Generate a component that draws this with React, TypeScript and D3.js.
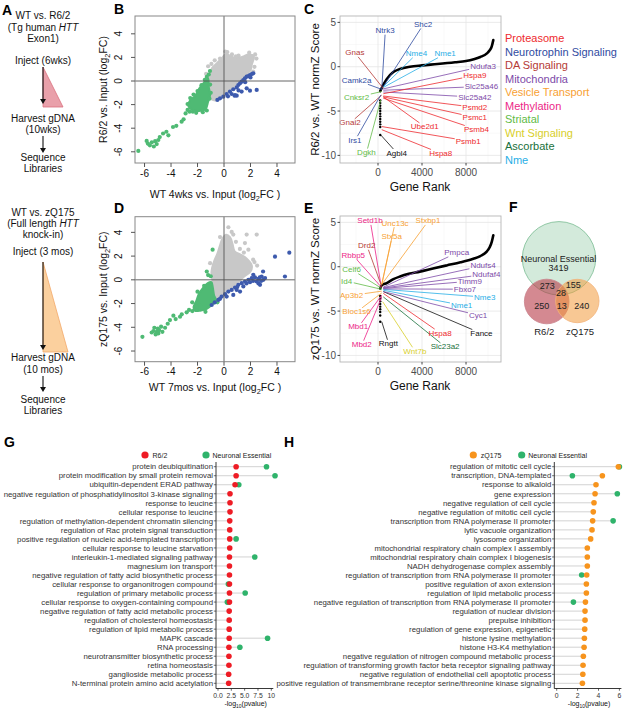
import React, { useEffect, useRef } from 'react'
import * as d3 from 'd3'

const FONT = "'Liberation Sans', Arial, Helvetica, sans-serif"

// ---------- B: R6/2 screen, log2FC vs input ----------
const bGrayCloud = [[-0.95,-1.55],[-1.25,-1.0],[-1.3,-0.3],[-1.15,0.4],[-0.9,1.1],[-0.5,1.55],[-0.15,1.95],[0.15,2.3],[0.5,2.1],[0.9,1.95],[1.4,2.05],[1.85,2.25],[2.25,2.1],[2.1,1.4],[2.0,0.9],[1.6,0.45],[1.2,0.1],[0.85,-0.35],[0.5,-0.75],[0.1,-1.15],[-0.25,-1.45],[-0.6,-1.65]]
const bGray = [[-1.2,1.25],[-0.95,1.45],[-0.7,1.75],[0.25,2.45],[0.6,2.25],[1.9,2.4],[2.35,2.25],[2.45,1.9],[-1.35,0.6],[0.1,2.5],[1.1,2.15],[2.3,1.2],[-1.4,-0.1],[-1.25,-0.9],[1.5,0.6],[2.2,0.8],[-0.3,1.9],[0.9,2.1]]
const bGreenCloud = [[-2.7,-2.1],[-2.5,-1.55],[-2.2,-1.3],[-1.85,-0.6],[-1.45,-0.05],[-1.2,0.2],[-1.15,-0.5],[-1.05,-1.2],[-1.2,-1.75],[-1.4,-2.4],[-1.9,-2.55],[-2.4,-2.45]]
const bGreen = [[-6.47,-5.93],[-5.84,-5.08],[-5.75,-5.3],[-5.6,-5.45],[-5.45,-5.2],[-5.3,-5.55],[-5.2,-5.1],[-5.08,-5.35],[-4.96,-5.0],[-4.85,-4.75],[-4.6,-4.45],[-4.35,-4.3],[-4.2,-4.6],[-3.85,-3.9],[-3.6,-3.8],[-3.2,-3.45],[-3.05,-3.25],[-2.9,-2.75],[-2.75,-2.45],[-2.6,-2.6],[-2.75,-1.95],[-2.55,-1.45],[-2.3,-1.15],[-2.0,-0.85],[-1.7,-0.35],[-1.45,0.1],[-1.3,0.35],[-1.06,0.85],[-1.15,0.55],[-1.0,-1.0],[-1.3,-2.5],[-1.6,-2.65],[-2.1,-2.7],[-2.35,-2.6],[-1.05,-0.3],[-1.1,-1.5]]
const bBlue = [[-0.5,-1.6],[-0.3,-1.47],[-0.05,-1.33],[0.2,-1.1],[0.3,-1.3],[0.45,-0.9],[0.58,-1.1],[0.7,-0.7],[0.83,-1.19],[0.96,-0.54],[1.08,-0.34],[1.1,-0.8],[1.21,-0.2],[1.33,-0.06],[1.33,-0.9],[1.46,0.08],[1.58,0.23],[1.6,-0.1],[1.71,0.37],[1.71,-0.62],[1.84,0.42],[1.96,0.51],[1.96,-0.82],[2.0,0.3],[2.09,0.59],[2.21,0.65],[2.47,-0.76],[0.96,-1.24],[0.8,-1.25]]

// ---------- D: zQ175 screen ----------
const dGrayCloud = [[-0.8,-0.45],[-0.95,0.5],[-0.9,1.0],[-0.7,1.7],[-0.5,2.2],[-0.3,2.9],[-0.15,3.4],[0.15,3.8],[0.45,3.6],[0.65,3.0],[0.8,2.4],[1.3,2.1],[1.7,1.8],[2.1,1.2],[2.0,0.7],[1.5,0.25],[1.1,-0.15],[0.6,-0.6],[0.2,-1.0],[-0.2,-1.4],[-0.55,-1.65],[-0.75,-1.2]]
const dGray = [[0.33,4.43],[0.58,4.04],[0.08,3.53],[0.7,3.81],[1.71,3.81],[2.47,3.81],[1.58,3.1],[1.84,2.54],[1.2,2.6],[1.5,2.3],[0.9,3.2],[2.3,1.5],[2.5,1.2],[-1.05,1.4],[2.2,1.7],[-0.3,3.6]]
const dGreenCloud = [[-2.3,-2.3],[-2.1,-1.8],[-1.9,-1.2],[-1.6,-0.7],[-1.25,-0.3],[-0.95,-0.2],[-0.85,-0.6],[-0.75,-1.3],[-0.6,-1.75],[-0.9,-2.1],[-1.3,-2.45],[-1.8,-2.6],[-2.2,-2.6]]
const dGreen = [[-6.16,-4.8],[-5.46,-4.44],[-5.33,-4.32],[-5.26,-4.04],[-5.16,-4.6],[-5.08,-4.38],[-5.0,-4.1],[-4.96,-4.52],[-4.9,-4.24],[-4.75,-3.95],[-4.65,-4.38],[-4.45,-4.04],[-4.25,-3.7],[-4.08,-3.39],[-3.82,-3.02],[-3.65,-3.31],[-3.32,-3.11],[-3.19,-2.91],[-2.82,-2.74],[-2.64,-2.54],[-2.39,-2.63],[-2.06,-2.26],[-1.81,-2.12],[-0.86,2.54],[-1.2,0.4],[-1.3,0.7],[-1.0,0.3],[-1.5,-0.5],[-2.0,-1.0],[-2.4,-1.9],[-1.4,-2.7],[-0.7,-1.9],[-0.5,-1.9]]
const dBlue = [[-0.43,-1.69],[-0.18,-1.41],[0.08,-1.21],[0.33,-0.99],[0.58,-0.85],[0.83,-0.65],[0.96,-0.85],[1.08,-0.42],[1.33,-0.28],[1.46,-0.56],[1.58,-0.14],[1.84,0],[1.96,-0.2],[2.09,0.14],[2.21,0.42],[2.34,0.2],[2.47,-0.14],[2.59,0.08],[2.72,-0.42],[2.84,0.28],[2.97,0],[1.21,-0.99],[0.7,-1.27],[0.2,-1.41],[-0.93,-2.12],[3.85,1.95],[4.93,2.29],[4.6,0.28],[2.95,0.7],[2.7,0.2],[2.8,-0.1],[3.1,0.15],[2.6,-0.3],[-0.7,-1.9],[-0.3,-1.6],[1.7,-0.3],[2.2,-0.1],[1.0,-0.6]]

// ---------- C / E: normZ rank curves ----------
const groups = ['Proteasome','Neurotrophin Signaling','DA Signaling','Mitochondria','Vesicle Transport','Methylation','Striatal','Wnt Signaling','Ascorbate','Nme']
const groupColors = ['#ee2a2e','#2f4b9f','#b53a36','#7d4aa8','#f8a133','#ec1f87','#62bb47','#d8cf2a','#18703b','#27aee6']

const cCurveRank = [200,336,500,790,1390,2000,2900,4000,5400,7000,8000,8700,9300,9900,10150,10340,10480]
const cCurveZ = [-2.75,-2.4,-2.0,-1.4,-0.6,-0.25,0.0,0.15,0.3,0.5,0.65,0.85,1.1,1.5,1.85,2.3,3.0]
const cTail = [-3.8,-4.1,-4.4,-4.7,-5.0,-5.3,-5.6,-5.9,-6.2,-6.5,-6.8,-7.7]
const cGenes = [
  {gene:'Ntrk3', group:'Neurotrophin Signaling', rank:340, z:-2.6, lr:640, lz:4.1},
  {gene:'Shc2', group:'Neurotrophin Signaling', rank:480, z:-2.25, lr:4100, lz:4.8},
  {gene:'Gnas', group:'DA Signaling', rank:480, z:-2.45, lr:-2100, lz:1.6},
  {gene:'Nme4', group:'Nme', rank:480, z:-2.25, lr:3500, lz:1.5},
  {gene:'Nme1', group:'Nme', rank:540, z:-2.3, lr:6100, lz:1.5},
  {gene:'Camk2a', group:'Neurotrophin Signaling', rank:340, z:-2.55, lr:-1950, lz:-1.5},
  {gene:'Cnksr2', group:'Striatal', rank:340, z:-2.8, lr:-1950, lz:-3.4},
  {gene:'Gnai2', group:'DA Signaling', rank:340, z:-3.2, lr:-2550, lz:-6.3},
  {gene:'Irs1', group:'Neurotrophin Signaling', rank:250, z:-3.2, lr:-2100, lz:-8.25},
  {gene:'Dgkh', group:'Striatal', rank:250, z:-3.75, lr:-1050, lz:-9.65},
  {gene:'Agbl4', group:'Other', rank:250, z:-7.7, lr:1700, lz:-9.7},
  {gene:'Ube2d1', group:'Proteasome', rank:480, z:-3.4, lr:4250, lz:-6.75},
  {gene:'Hspa8', group:'Proteasome', rank:340, z:-7.1, lr:5700, lz:-9.75},
  {gene:'Psmb1', group:'Proteasome', rank:340, z:-6.75, lr:8200, lz:-8.35},
  {gene:'Psmb4', group:'Proteasome', rank:480, z:-3.55, lr:8950, lz:-7.05},
  {gene:'Psmc1', group:'Proteasome', rank:480, z:-3.4, lr:8800, lz:-5.7},
  {gene:'Psmd2', group:'Proteasome', rank:480, z:-3.3, lr:8800, lz:-4.55},
  {gene:'Slc25a42', group:'Mitochondria', rank:480, z:-2.85, lr:8800, lz:-3.4},
  {gene:'Slc25a46', group:'Mitochondria', rank:480, z:-2.65, lr:9400, lz:-2.2},
  {gene:'Hspa9', group:'Proteasome', rank:480, z:-3.05, lr:8800, lz:-0.95},
  {gene:'Ndufa3', group:'Mitochondria', rank:480, z:-2.5, lr:9550, lz:0.1},
]

const eCurveRank = [200,336,790,1400,2000,2800,3800,5000,6240,7500,8660,9300,9880,10150,10340,10480]
const eCurveZ = [-2.45,-2.1,-1.85,-1.4,-1.1,-0.8,-0.55,-0.2,0.15,0.5,0.9,1.2,1.7,2.2,2.8,3.55]
const eTail = [-3.3,-3.6,-3.9,-4.2,-4.5,-4.8,-5.1,-5.5,-6.2]
const eGenes = [
  {gene:'Setd1b', group:'Methylation', rank:250, z:-1.9, lr:-730, lz:5.2},
  {gene:'Unc13c', group:'Vesicle Transport', rank:340, z:-1.95, lr:1550, lz:4.95},
  {gene:'Stxbp1', group:'Vesicle Transport', rank:340, z:-2.0, lr:4550, lz:5.2},
  {gene:'Stx5a', group:'Vesicle Transport', rank:340, z:-2.05, lr:1250, lz:3.4},
  {gene:'Drd2', group:'DA Signaling', rank:340, z:-2.25, lr:-1030, lz:2.4},
  {gene:'Rbbp5', group:'Methylation', rank:340, z:-2.35, lr:-2250, lz:1.25},
  {gene:'Celf6', group:'Striatal', rank:340, z:-2.45, lr:-2400, lz:-0.3},
  {gene:'Id4', group:'Striatal', rank:340, z:-2.55, lr:-2850, lz:-1.6},
  {gene:'Ap3b2', group:'Vesicle Transport', rank:340, z:-2.75, lr:-2400, lz:-3.2},
  {gene:'Bloc1s6', group:'Vesicle Transport', rank:340, z:-2.95, lr:-1950, lz:-5.05},
  {gene:'Mbd1', group:'Methylation', rank:340, z:-3.2, lr:-1800, lz:-6.75},
  {gene:'Mbd2', group:'Methylation', rank:340, z:-3.4, lr:-1480, lz:-8.75},
  {gene:'Rngtt', group:'Other', rank:340, z:-6.2, lr:940, lz:-8.65},
  {gene:'Wnt7b', group:'Wnt Signaling', rank:430, z:-3.95, lr:3350, lz:-9.5},
  {gene:'Slc23a2', group:'Ascorbate', rank:480, z:-3.4, lr:6100, lz:-9.0},
  {gene:'Hspa8', group:'Proteasome', rank:480, z:-3.0, lr:5650, lz:-7.45},
  {gene:'Fance', group:'Other', rank:480, z:-2.8, lr:9400, lz:-7.5},
  {gene:'Cyc1', group:'Mitochondria', rank:480, z:-2.8, lr:9100, lz:-5.45},
  {gene:'Nme1', group:'Nme', rank:480, z:-2.65, lr:7600, lz:-4.3},
  {gene:'Nme3', group:'Nme', rank:480, z:-2.55, lr:9700, lz:-3.4},
  {gene:'Fbxo7', group:'Mitochondria', rank:480, z:-2.5, lr:7900, lz:-2.5},
  {gene:'Timm9', group:'Mitochondria', rank:480, z:-2.45, lr:8350, lz:-1.6},
  {gene:'Ndufaf4', group:'Mitochondria', rank:480, z:-2.4, lr:9850, lz:-0.8},
  {gene:'Ndufs4', group:'Mitochondria', rank:480, z:-2.35, lr:9550, lz:0.15},
  {gene:'Pmpca', group:'Mitochondria', rank:480, z:-2.3, lr:7150, lz:1.6},
]

// ---------- F: venn counts ----------
const vennCounts = {ne:3419, neR:273, neQ:155, all:28, r:250, rq:13, q:240}

// ---------- G: GO terms R6/2 ----------
const gTerms = [
  'protein deubiquitination','protein modification by small protein removal','ubiquitin-dependent ERAD pathway',
  'negative regulation of phosphatidylinositol 3-kinase signaling','response to leucine','cellular response to leucine',
  'regulation of methylation-dependent chromatin silencing','regulation of Rac protein signal transduction',
  'positive regulation of nucleic acid-templated transcription','cellular response to leucine starvation',
  'interleukin-1-mediated signaling pathway','magnesium ion transport','negative regulation of fatty acid biosynthetic process',
  'cellular response to organonitrogen compound','regulation of primary metabolic process','cellular response to oxygen-containing compound',
  'negative regulation of fatty acid metabolic process','regulation of cholesterol homeostasis','regulation of lipid metabolic process',
  'MAPK cascade','RNA processing','neurotransmitter biosynthetic process','retina homeostasis','ganglioside metabolic process',
  'N-terminal protein amino acid acetylation',
]
const gR62 = [3.4,3.4,3.2,2.25,2.25,2.25,2.2,2.2,2.2,2.2,2.15,2.15,2.15,2.15,2.15,2.15,2.1,2.1,2.1,2.1,2.05,2.05,2.05,2.0,2.0]
const gNE = [9.1,10.7,3.9,null,null,null,null,null,3.4,null,6.9,null,null,1.95,5.1,1.75,null,null,null,9.3,4.1,null,null,null,null]

// ---------- H: GO terms zQ175 ----------
const hTerms = [
  'regulation of mitotic cell cycle','transcription, DNA-templated','response to alkaloid','gene expression',
  'negative regulation of cell cycle','negative regulation of mitotic cell cycle','transcription from RNA polymerase II promoter',
  'lytic vacuole organization','lysosome organization','mitochondrial respiratory chain complex I assembly',
  'mitochondrial respiratory chain complex I biogenesis','NADH dehydrogenase complex assembly',
  'regulation of transcription from RNA polymerase II promoter','positive regulation of axon extension',
  'regulation of lipid metabolic process','negative regulation of transcription from RNA polymerase II promoter',
  'regulation of nuclear division','prepulse inhibition','regulation of gene expression, epigenetic','histone lysine methylation',
  'histone H3-K4 methylation','negative regulation of nitrogen compound metabolic process',
  'regulation of transforming growth factor beta receptor signaling pathway','negative regulation of endothelial cell apoptotic process',
  'positive regulation of transmembrane receptor serine/threonine kinase signaling',
]
const hQ175 = [5.9,4.37,3.76,3.67,3.57,3.5,3.44,3.38,3.25,2.93,2.93,2.93,2.87,2.84,2.84,2.75,2.71,2.71,2.68,2.65,2.62,2.55,2.52,2.5,2.46]
const hNE = [6.0,1.5,null,5.8,null,null,5.4,null,null,null,null,null,2.39,null,null,1.6,null,null,null,null,null,null,null,null,null]

const GRAY = '#c8c8c8', GREEN = '#4fba74', BLUE = '#3d5aad'
const RED = '#ee1c25', NEGREEN = '#2fb36b', ORANGE = '#f7941d'

const colorOf = (g:string) => { const i = groups.indexOf(g); return i < 0 ? '#111' : groupColors[i] }

function txt(g:any, x:number, y:number, s:string, o:any = {}) {
  const t = g.append('text').attr('x', x).attr('y', y).text(s)
    .attr('font-size', o.size ?? 10).attr('text-anchor', o.anchor ?? 'start').attr('fill', o.fill ?? '#111')
  if (o.weight) t.attr('font-weight', o.weight)
  return t
}

function subTitle(g:any, x:number, y:number, pre:string, sub:string, post:string, size:number, rotate=false) {
  const t = g.append('text').attr('x', x).attr('y', y).attr('text-anchor','middle').attr('font-size', size).attr('fill','#111')
  if (rotate) t.attr('transform', `rotate(-90,${x},${y})`)
  t.append('tspan').text(pre)
  t.append('tspan').attr('font-size', size*0.7).attr('dy', size*0.3).text(sub)
  t.append('tspan').attr('dy', -size*0.3).text(post)
}

function drawScatter(svg:any, p:any) {
  const L = 135, R = 295
  const x = d3.scaleLinear().domain([-6.72, 5.36]).range([L, R])
  const y = d3.scaleLinear().domain(p.yDom).range([p.bottom, p.top])
  const g = svg.append('g')
  const cloud = d3.line().x((d:any)=>x(d[0])).y((d:any)=>y(d[1])).curve(d3.curveCatmullRomClosed)
  const dots = (arr:any[], col:string) => g.append('g').selectAll('circle').data(arr).join('circle')
    .attr('cx', (d:any)=>x(d[0])).attr('cy', (d:any)=>y(d[1])).attr('r', 2.1).attr('fill', col)
  g.append('path').attr('d', cloud(p.grayCloud)).attr('fill', GRAY).attr('stroke', GRAY).attr('stroke-width', 2)
  dots(p.gray, GRAY)
  g.append('path').attr('d', cloud(p.greenCloud)).attr('fill', GREEN).attr('stroke', GREEN).attr('stroke-width', 2)
  dots(p.green, GREEN)
  dots(p.blue, BLUE)
  g.append('line').attr('x1', x(0)).attr('x2', x(0)).attr('y1', p.top).attr('y2', p.bottom).attr('stroke','#555').attr('stroke-width',0.9)
  g.append('line').attr('x1', L).attr('x2', R).attr('y1', y(0)).attr('y2', y(0)).attr('stroke','#555').attr('stroke-width',0.9)
  g.append('rect').attr('x', L).attr('y', p.top).attr('width', R-L).attr('height', p.bottom-p.top)
    .attr('fill','none').attr('stroke','#888').attr('stroke-width',1)
  const ticks = [-6,-4,-2,0,2,4]
  ticks.forEach(v => {
    g.append('line').attr('x1', x(v)).attr('x2', x(v)).attr('y1', p.bottom).attr('y2', p.bottom+4).attr('stroke','#555')
    txt(g, x(v), p.bottom+13.5, String(v), {anchor:'middle', size:10})
    g.append('line').attr('x1', L-4).attr('x2', L).attr('y1', y(v)).attr('y2', y(v)).attr('stroke','#555')
    txt(g, 122, y(v), String(v), {anchor:'middle', size:10}).attr('transform', `rotate(-90,122,${y(v)})`)
  })
  subTitle(g, 215, p.bottom + p.titleGap, p.xPre, '2', 'FC )', 10.5)
  subTitle(g, 107, (p.top+p.bottom)/2, p.yPre, '2', 'FC)', 10.5, true)
}

function drawRank(svg:any, p:any) {
  const L = 340, R = 501
  const x = d3.scaleLinear().domain([-3455, 11180]).range([L, R])
  const y = d3.scaleLinear().domain(p.yDom).range([p.bottom, p.top])
  const g = svg.append('g')
  g.append('rect').attr('x', L).attr('y', p.top).attr('width', R-L).attr('height', p.bottom-p.top).attr('fill','#fff')
  ;[-2000,2000,6000,10000].forEach(v => g.append('line').attr('x1',x(v)).attr('x2',x(v)).attr('y1',p.top).attr('y2',p.bottom).attr('stroke','#f3f3f3').attr('stroke-width',0.5))
  ;[-7.5,-2.5,2.5].forEach(v => g.append('line').attr('x1',L).attr('x2',R).attr('y1',y(v)).attr('y2',y(v)).attr('stroke','#f3f3f3').attr('stroke-width',0.5))
  ;[0,4000,8000].forEach(v => g.append('line').attr('x1',x(v)).attr('x2',x(v)).attr('y1',p.top).attr('y2',p.bottom).attr('stroke','#e6e6e6').attr('stroke-width',0.8))
  ;[-10,-5,0,5].forEach(v => g.append('line').attr('x1',L).attr('x2',R).attr('y1',y(v)).attr('y2',y(v)).attr('stroke','#e6e6e6').attr('stroke-width',0.8))

  const pts = p.curveRank.map((r:number, i:number) => [r, p.curveZ[i]])
  const line = d3.line().x((d:any)=>x(d[0])).y((d:any)=>y(d[1])).curve(d3.curveMonotoneX)
  g.append('path').attr('d', line(pts)).attr('fill','none').attr('stroke','#000').attr('stroke-width',2.6).attr('stroke-linecap','round')
  g.append('g').selectAll('circle').data(p.tail).join('circle')
    .attr('cx', x(200)).attr('cy', (d:number)=>y(d)).attr('r', 1.2).attr('fill','#000')

  const segG = g.append('g'), labG = g.append('g')
  p.genes.forEach((d:any) => {
    const col = colorOf(d.group)
    const t = labG.append('text').attr('x', x(d.lr)).attr('y', y(d.lz)).attr('dy','0.35em')
      .attr('text-anchor','middle').attr('font-size', 8).attr('fill', col).text(d.gene)
    const bb = t.node().getBBox()
    const cx = bb.x + bb.width/2, cy = bb.y + bb.height/2
    const px = x(d.rank), py = y(d.z)
    const dx = px - cx, dy = py - cy
    const hw = bb.width/2 + 1, hh = bb.height/2 - 0.5
    const s = Math.min(Math.abs(dx) > 0.01 ? hw/Math.abs(dx) : 1e9, Math.abs(dy) > 0.01 ? hh/Math.abs(dy) : 1e9)
    segG.append('line').attr('x1', px).attr('y1', py).attr('x2', cx + dx*s).attr('y2', cy + dy*s)
      .attr('stroke', col).attr('stroke-width', 0.8)
  })

  g.append('rect').attr('x', L).attr('y', p.top).attr('width', R-L).attr('height', p.bottom-p.top)
    .attr('fill','none').attr('stroke','#b5b5b5').attr('stroke-width',0.9)
  ;[-10,-5,0,5].forEach(v => {
    g.append('line').attr('x1', L-2.5).attr('x2', L).attr('y1', y(v)).attr('y2', y(v)).attr('stroke','#444')
    txt(g, L-4, y(v), String(v), {anchor:'end', size:10, fill:'#4d4d4d'}).attr('dy','0.35em')
  })
  ;[0,4000,8000].forEach(v => {
    g.append('line').attr('x1', x(v)).attr('x2', x(v)).attr('y1', p.bottom).attr('y2', p.bottom+2.5).attr('stroke','#444')
    txt(g, x(v), p.bottom+13, String(v), {anchor:'middle', size:10, fill:'#4d4d4d'})
  })
  txt(g, 420, p.bottom+27.5, 'Gene Rank', {anchor:'middle', size:12})
  const cy = (p.top+p.bottom)/2
  txt(g, 319, cy, p.yTitle, {anchor:'middle', size:11.5}).attr('transform', `rotate(-90,319,${cy})`)
}

function drawLolli(svg:any, p:any) {
  const top = 466.7, bot = 683.3
  const y = d3.scalePoint().domain(p.terms).range([top, bot])
  const x = d3.scaleLinear().domain([0, p.xMax]).range([p.x0, p.x0 + p.xMax*p.ppu])
  const g = svg.append('g')
  p.terms.forEach((t:string, i:number) => {
    const hi = Math.max(p.main[i], p.ne[i] ?? 0)
    g.append('line').attr('x1', p.axisX).attr('x2', x(hi)).attr('y1', y(t)).attr('y2', y(t)).attr('stroke','#d2d2d2').attr('stroke-width',1)
    g.append('line').attr('x1', p.axisX-2.2).attr('x2', p.axisX).attr('y1', y(t)).attr('y2', y(t)).attr('stroke','#333').attr('stroke-width',0.7)
    txt(g, p.axisX-3, y(t), t, {anchor:'end', size:7.8, fill:'#333'}).attr('dy','0.35em')
  })
  g.append('g').selectAll('circle').data(p.terms.map((t:string,i:number)=>[t,p.ne[i]]).filter((d:any)=>d[1]!=null)).join('circle')
    .attr('cx', (d:any)=>x(d[1])).attr('cy', (d:any)=>y(d[0])).attr('r', 2.8).attr('fill', NEGREEN)
  g.append('g').selectAll('circle').data(p.terms.map((t:string,i:number)=>[t,p.main[i]])).join('circle')
    .attr('cx', (d:any)=>x(d[1])).attr('cy', (d:any)=>y(d[0])).attr('r', 2.8).attr('fill', p.color)
  const xr = x(p.xMax)
  g.append('line').attr('x1', p.axisX).attr('x2', p.axisX).attr('y1', 462).attr('y2', 688.5).attr('stroke','#222').attr('stroke-width',0.9)
  g.append('line').attr('x1', p.axisX).attr('x2', xr + 2).attr('y1', 688.5).attr('y2', 688.5).attr('stroke','#222').attr('stroke-width',0.9)
  p.xTicks.forEach((v:number, i:number) => {
    g.append('line').attr('x1', x(v)).attr('x2', x(v)).attr('y1', 688.5).attr('y2', 690.7).attr('stroke','#222').attr('stroke-width',0.7)
    txt(g, x(v), 697.5, p.xLabels[i], {anchor:'middle', size:6.8, fill:'#333'})
  })
  subTitle(g, (p.x0 + xr)/2 + 1, 705.5, '-log', '10', '(pvalue)', 7)
  // legend
  g.append('circle').attr('cx', p.leg[0]).attr('cy', 455).attr('r', 3.6).attr('fill', p.color)
  txt(g, p.leg[0]+7.5, 457.5, p.mainName, {size:7, fill:'#222'})
  g.append('circle').attr('cx', p.leg[1]).attr('cy', 455).attr('r', 3.6).attr('fill', NEGREEN)
  txt(g, p.leg[1]+6.5, 457.5, 'Neuronal Essential', {size:7, fill:'#222'})
}

function drawA(svg:any) {
  const g = svg.append('g'), X = 43, fs = 10
  const arrow = (y1:number, y2:number) => {
    g.append('line').attr('x1', X).attr('x2', X).attr('y1', y1).attr('y2', y2-4).attr('stroke','#111').attr('stroke-width',1.1)
    g.append('path').attr('d', `M${X-3},${y2-5}L${X+3},${y2-5}L${X},${y2}Z`).attr('fill','#111')
  }
  const ital = (y:number, pre:string) => {
    const t = g.append('text').attr('x', X).attr('y', y).attr('text-anchor','middle').attr('font-size', fs).attr('fill','#111')
    t.append('tspan').text(pre)
    t.append('tspan').attr('font-style','italic').text('HTT')
  }
  txt(g, X, 19, 'WT vs. R6/2', {anchor:'middle', size:fs})
  ital(30.5, '(Tg human ')
  txt(g, X, 41.5, 'Exon1)', {anchor:'middle', size:fs})
  txt(g, X, 64, 'Inject (6wks)', {anchor:'middle', size:fs})
  g.append('path').attr('d', `M${X},67L${X},107L63,107Z`).attr('fill','#e9a0aa').attr('stroke','#d9707e').attr('stroke-width',0.8)
  arrow(67, 104)
  txt(g, X, 122, 'Harvest gDNA', {anchor:'middle', size:fs})
  txt(g, X, 132.5, '(10wks)', {anchor:'middle', size:fs})
  arrow(136, 153)
  txt(g, X, 161, 'Sequence', {anchor:'middle', size:fs})
  txt(g, X, 171.5, 'Libraries', {anchor:'middle', size:fs})

  txt(g, X, 216, 'WT vs. zQ175', {anchor:'middle', size:fs})
  ital(226.5, '(Full length ')
  txt(g, X, 237.5, 'knock-in)', {anchor:'middle', size:fs})
  txt(g, X, 255, 'Inject (3 mos)', {anchor:'middle', size:fs})
  g.append('path').attr('d', `M${X},262L${X},352L68,352Z`).attr('fill','#fbd09e').attr('stroke','#f2a868').attr('stroke-width',0.8)
  arrow(262, 350)
  txt(g, X, 361, 'Harvest gDNA', {anchor:'middle', size:fs})
  txt(g, X, 372.5, '(10 mos)', {anchor:'middle', size:fs})
  arrow(376, 392)
  txt(g, X, 403, 'Sequence', {anchor:'middle', size:fs})
  txt(g, X, 413.5, 'Libraries', {anchor:'middle', size:fs})
}

function drawF(svg:any) {
  const g = svg.append('g')
  g.append('circle').attr('cx', 559).attr('cy', 258.3).attr('r', 36.7).attr('fill','#d3eadb').attr('stroke','#86c29c').attr('stroke-width',0.9)
  g.append('circle').attr('cx', 546.7).attr('cy', 301.5).attr('r', 22.3).attr('fill','#b83a48').attr('fill-opacity',0.6).attr('stroke','#c9808a').attr('stroke-width',0.8)
  g.append('circle').attr('cx', 577.3).attr('cy', 301).attr('r', 21.7).attr('fill','#f39a3c').attr('fill-opacity',0.55).attr('stroke','#f2b27a').attr('stroke-width',0.8)
  const c = vennCounts, fs = 9
  txt(g, 558.5, 261.5, 'Neuronal Essential', {anchor:'middle', size:fs, fill:'#222'})
  txt(g, 558.5, 271, String(c.ne), {anchor:'middle', size:fs, fill:'#222'})
  txt(g, 547.3, 288.5, String(c.neR), {anchor:'middle', size:fs, fill:'#222'})
  txt(g, 573.3, 288, String(c.neQ), {anchor:'middle', size:fs, fill:'#222'})
  txt(g, 561, 295.5, String(c.all), {anchor:'middle', size:fs, fill:'#222'})
  txt(g, 541.7, 308.5, String(c.r), {anchor:'middle', size:fs, fill:'#222'})
  txt(g, 561.7, 308.5, String(c.rq), {anchor:'middle', size:fs, fill:'#222'})
  txt(g, 581.7, 308.5, String(c.q), {anchor:'middle', size:fs, fill:'#222'})
  txt(g, 544.3, 334.5, 'R6/2', {anchor:'middle', size:9.5, fill:'#222'})
  txt(g, 580, 334.5, 'zQ175', {anchor:'middle', size:9.5, fill:'#222'})
}

export default function App() {
  const ref = useRef<SVGSVGElement>(null)
  useEffect(() => {
    const svg = d3.select(ref.current)
    svg.selectAll('*').remove()
    svg.attr('font-family', FONT)

    drawA(svg)
    drawScatter(svg, {top:16, bottom:163, yDom:[-6.95,5.51], grayCloud:bGrayCloud, gray:bGray, greenCloud:bGreenCloud,
      green:bGreen, blue:bBlue, xPre:'WT 4wks vs. Input (log', yPre:'R6/2 vs. Input (log', titleGap:35})
    drawScatter(svg, {top:216.7, bottom:361.7, yDom:[-6.9,5.32], grayCloud:dGrayCloud, gray:dGray, greenCloud:dGreenCloud,
      green:dGreen, blue:dBlue, xPre:'WT 7mos vs. Input (log', yPre:'zQ175 vs. Input (log', titleGap:29})
    drawRank(svg, {top:16, bottom:163, yDom:[-10.86,5.72], curveRank:cCurveRank, curveZ:cCurveZ, tail:cTail, genes:cGenes,
      yTitle:'R6/2 vs. WT normZ Score'})
    drawRank(svg, {top:216, bottom:362, yDom:[-10.74,5.72], curveRank:eCurveRank, curveZ:eCurveZ, tail:eTail, genes:eGenes,
      yTitle:'zQ175 vs. WT normZ Score'})

    // C legend
    const lg = svg.append('g')
    groups.forEach((gr, i) => txt(lg, 505, 42 + i*13.5, gr, {size:11, fill:groupColors[i]}))

    drawF(svg)
    drawLolli(svg, {terms:gTerms, main:gR62, ne:gNE, color:RED, mainName:'R6/2', xMax:10, x0:218, ppu:5.33,
      axisX:216, xTicks:[0,2.5,5,7.5,10], xLabels:['0.0','2.5','5.0','7.5','10'], leg:[145,206]})
    drawLolli(svg, {terms:hTerms, main:hQ175, ne:hNE, color:ORANGE, mainName:'zQ175', xMax:6, x0:556.7, ppu:10.45,
      axisX:554.3, xTicks:[0,2,4,6], xLabels:['0','2','4','6'], leg:[473.3,521.7]})

    // panel letters
    const letters = [['A',2,15],['B',114,13.5],['C',304,13.5],['D',114,212.5],['E',304,212.5],['F',509,212],['G',4,447],['H',284,447]]
    letters.forEach(([s,x,y]:any) => txt(svg, x, y, s, {size:14, weight:'bold', fill:'#000'}))
  }, [])
  return <svg ref={ref} width={625} height={710} style={{position:'absolute', left:0, top:0, background:'#fff'}} />
}
